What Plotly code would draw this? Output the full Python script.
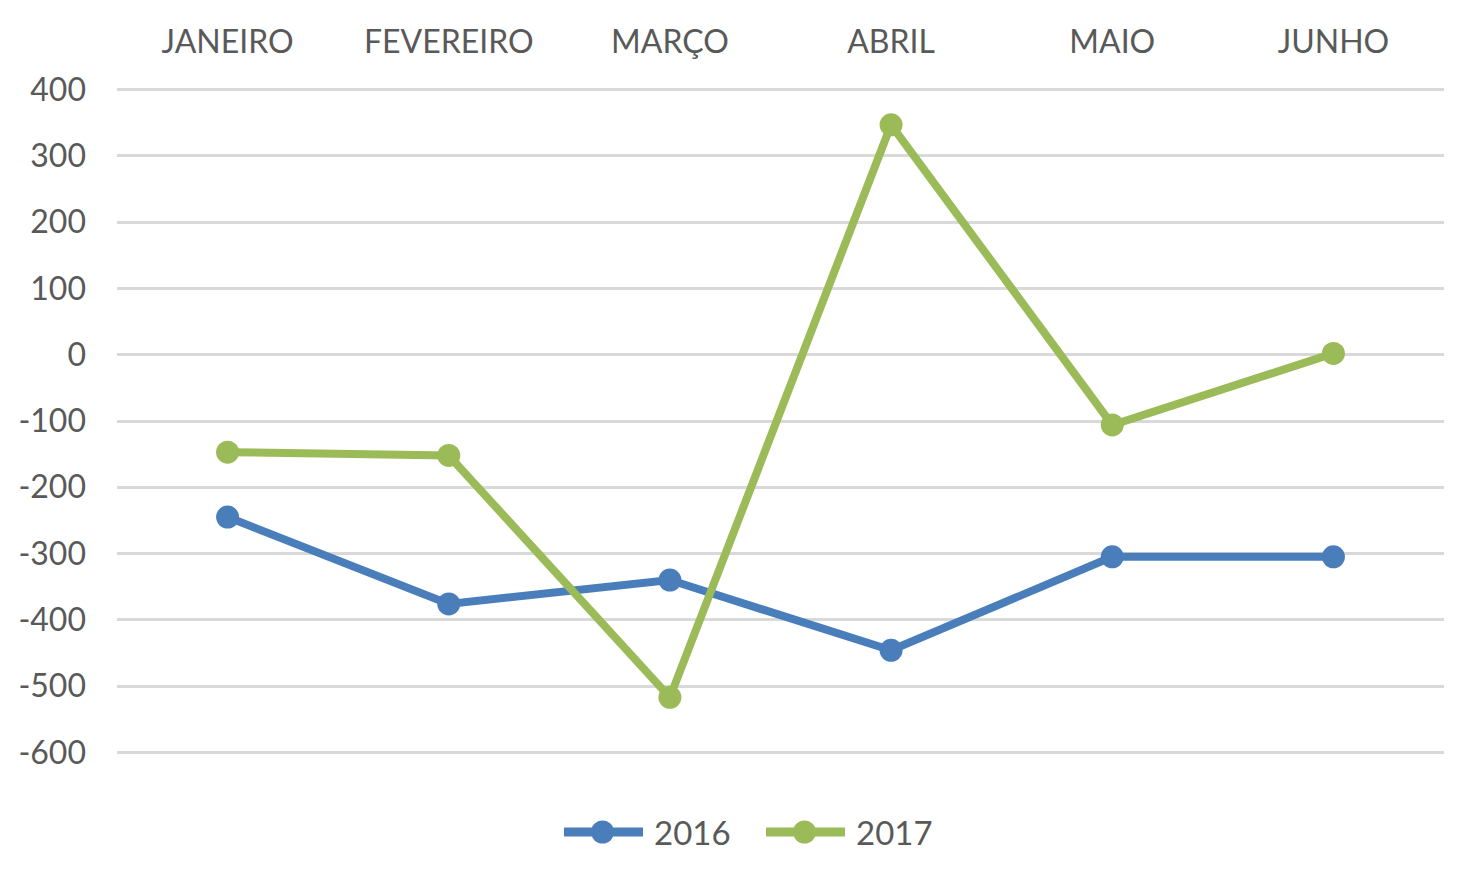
import plotly.graph_objects as go

months = ["JANEIRO", "FEVEREIRO", "MARÇO", "ABRIL", "MAIO", "JUNHO"]
v2016 = [-245, -376, -340, -446, -305, -305]
v2017 = [-147, -152, -517, 347, -106, 2]
yticks = [400, 300, 200, 100, 0, -100, -200, -300, -400, -500, -600]
series_names = ["2016", "2017"]

BLUE = "#4A7EBB"
GREEN = "#9BBB59"
TXT = "#595959"
FONT = "Lato"

W, H = 1478, 885
OFF = 8  # page body margin
ML, MR, MT, MB = 109, 42, 79, 138
PW, PH = W - ML - MR, H - MT - MB


def px2x(px):
    return (px - OFF - ML) / PW


def px2y(py):
    return (H - MB - (py - OFF)) / PH


fig = go.Figure()
for name, vals, col in [(series_names[0], v2016, BLUE), (series_names[1], v2017, GREEN)]:
    fig.add_trace(go.Scatter(x=months, y=vals, name=name, mode="lines+markers",
                             line=dict(color=col, width=8),
                             marker=dict(size=23, color=col), showlegend=False))

# custom legend (line + dot + text)
leg_y = 832
for name, col, x0 in [(series_names[0], BLUE, 560), (series_names[1], GREEN, 762)]:
    fig.add_shape(type="line", xref="paper", yref="paper",
                  x0=px2x(x0 + 4), x1=px2x(x0 + 83), y0=px2y(leg_y), y1=px2y(leg_y),
                  line=dict(color=col, width=9))
    fig.add_shape(type="circle", xref="paper", yref="paper",
                  x0=px2x(x0 + 31), x1=px2x(x0 + 54), y0=px2y(leg_y - 11.5), y1=px2y(leg_y + 11.5),
                  fillcolor=col, line=dict(width=0))
    fig.add_annotation(text=name, xref="paper", yref="paper", x=px2x(x0 + 92), y=px2y(leg_y),
                       xanchor="left", yanchor="middle", showarrow=False,
                       font=dict(size=33, color=TXT, family=FONT))

fig.update_layout(
    width=W, height=H,
    margin=dict(l=ML, r=MR, t=MT, b=MB, autoexpand=False),
    paper_bgcolor="white", plot_bgcolor="white",
    font=dict(family=FONT, color=TXT),
    showlegend=False,
    xaxis=dict(side="top", type="category", range=[-0.5, 5.5], showgrid=False,
               showline=False, ticks="", tickfont=dict(size=32, color=TXT),
               ticklabelstandoff=27, automargin=False),
    yaxis=dict(range=[-604, 404], tickvals=yticks, ticktext=[str(v) for v in yticks],
               showgrid=True, gridcolor="#D9D9D9",
               gridwidth=2.5, zeroline=False, showline=False, ticks="",
               tickfont=dict(size=32, color=TXT), ticklabelstandoff=30, automargin=False),
)
fig.write_html("out.html")
